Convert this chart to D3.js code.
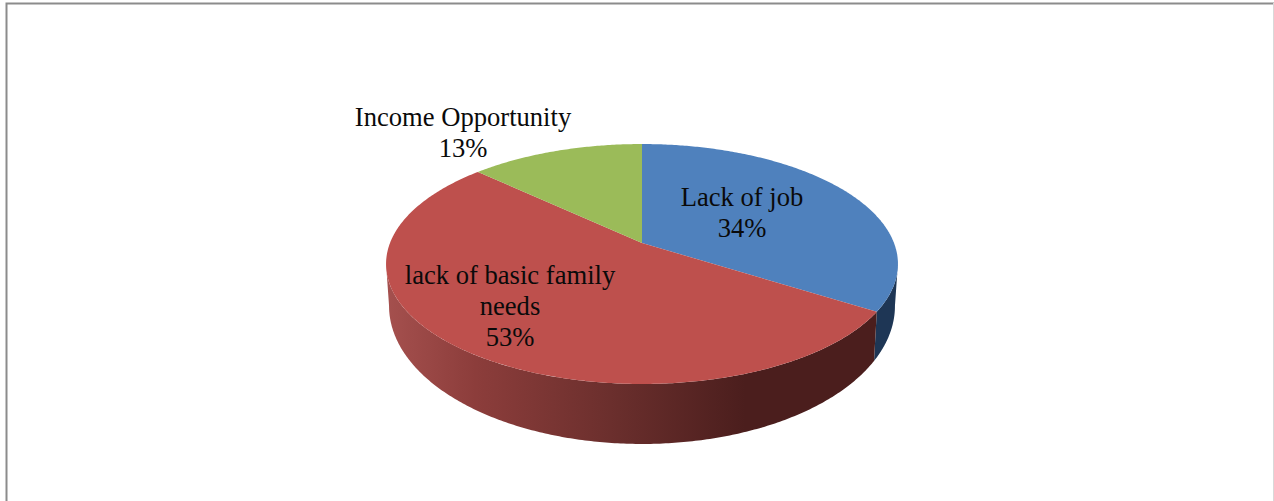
<!DOCTYPE html>
<html>
<head>
<meta charset="utf-8">
<script src="https://cdn.jsdelivr.net/npm/d3@7"></script>
<style>
  html, body { margin: 0; padding: 0; background: #fff; }
  svg { display: block; }
  text { font-family: "Liberation Serif", serif; font-size: 26.6px; fill: #0a0a0a; text-anchor: middle; }
</style>
</head>
<body>
<svg id="chart" width="1274" height="501"></svg>
<script>
const categories = ["Lack of job", "lack of basic family needs", "Income Opportunity"];
const shares = [34, 53, 13];
const labelLines = [["Lack of job", "34%"], ["lack of basic family", "needs", "53%"], ["Income Opportunity", "13%"]];

const topColors = ["#4f81bd", "#be504d", "#9bbb59"];
const labelAnchors = [[742, 206], [510, 284], [463, 126]];

const svg = d3.select("#chart");

// Frame around the chart area
svg.append("path")
  .attr("d", "M6.5,501V3.5H1274")
  .attr("fill", "none").attr("stroke", "#8c8c8c").attr("stroke-width", 2);
svg.append("line").attr("x1", 1273.5).attr("x2", 1273.5).attr("y1", 3).attr("y2", 501)
  .attr("stroke", "#d9d9d9").attr("stroke-width", 1);

// Tilted disc: perspective projection of the unit circle
const cx = 642, cy = 243, radius = 252, squash = 116.3, persp = 0.175;
// The underside is seen a little rounder and narrower than the top face
const faceMidY = 264, lowerMidY = 306, lowerScaleX = 253 / 256, lowerScaleY = 138 / 120;

function project(angle, level) {
  const u = Math.sin(angle), v = Math.cos(angle), w = 1 + persp * v;
  const x = cx + radius * u / w, y = cy - squash * v / w;
  if (level === 0) return [x, y];
  return [cx + (x - cx) * lowerScaleX, lowerMidY + (y - faceMidY) * lowerScaleY];
}

const arcs = d3.pie().sort(null).value(d => d)(shares);
const line = d3.line();

function rimPoints(a0, a1, level) {
  const n = Math.max(2, Math.ceil(Math.abs(a1 - a0) / 0.01));
  return d3.range(n + 1).map(i => project(a0 + (a1 - a0) * i / n, level));
}

// Horizontal shading along the visible wall of each slice
const defs = svg.append("defs");
const redWall = defs.append("linearGradient").attr("id", "wall-red")
  .attr("gradientUnits", "userSpaceOnUse").attr("x1", 386).attr("x2", 745).attr("y1", 0).attr("y2", 0);
redWall.append("stop").attr("offset", 0).attr("stop-color", "#a5504e");
redWall.append("stop").attr("offset", 0.25).attr("stop-color", "#8c3d3b");
redWall.append("stop").attr("offset", 0.65).attr("stop-color", "#692e2c");
redWall.append("stop").attr("offset", 1).attr("stop-color", "#4b1e1d");

const wallFills = ["#1e3655", "url(#wall-red)", "#4a5f2a"];

// Walls show only along the near side of the rim
const wallStart = 100 * Math.PI / 180, wallEnd = 260 * Math.PI / 180;
arcs.forEach((d, i) => {
  const a0 = Math.max(d.startAngle, wallStart), a1 = Math.min(d.endAngle, wallEnd);
  if (a1 <= a0) return;
  const upper = rimPoints(a0, a1, 0), lower = rimPoints(a1, a0, 1);
  svg.append("path").attr("class", "wall")
    .attr("d", line(upper.concat(lower)) + "Z")
    .attr("fill", wallFills[i]);
});

// Top faces
arcs.forEach((d, i) => {
  svg.append("path").attr("class", "slice")
    .attr("d", line([[cx, cy]].concat(rimPoints(d.startAngle, d.endAngle, 0))) + "Z")
    .attr("fill", topColors[i]);
});

// Data labels
labelLines.forEach((lines, i) => {
  const t = svg.append("text").attr("aria-label", categories[i]);
  lines.forEach((s, j) => {
    t.append("tspan").attr("x", labelAnchors[i][0]).attr("y", labelAnchors[i][1] + j * 31).text(s);
  });
});
</script>
</body>
</html>
